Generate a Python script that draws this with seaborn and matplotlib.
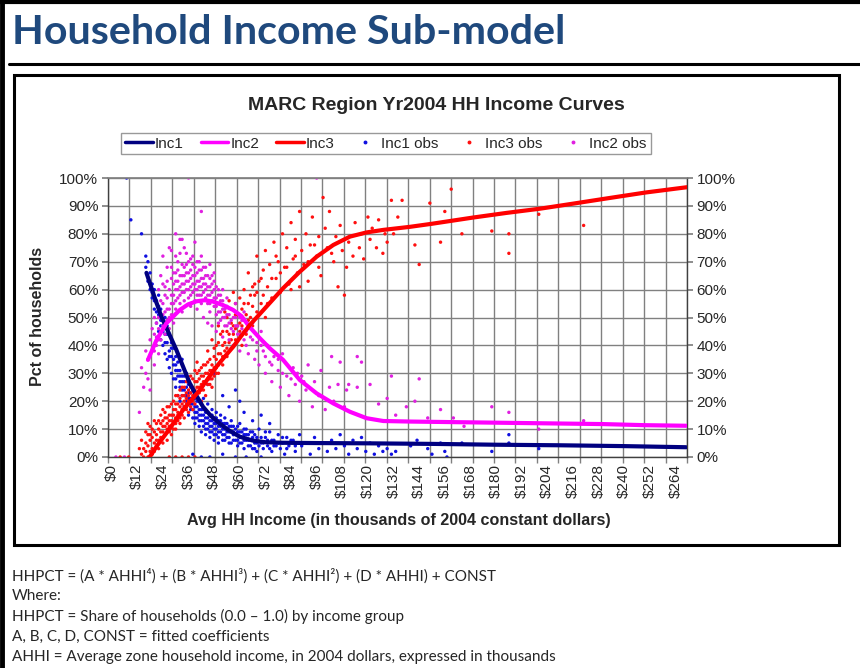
import numpy as np
import pandas as pd
import matplotlib.pyplot as plt
from matplotlib.lines import Line2D
from matplotlib.patches import Rectangle
import seaborn as sns

# ------------------------------------------------------------
# Data (x = $000s, y = percent)
# ------------------------------------------------------------
inc1_curve_x = [16.3, 20, 23.3, 27, 30.3, 33.5, 36.6, 39.7, 42.8, 46.5, 50.6, 55, 60, 66, 72, 80,
                95, 120, 150, 180, 210, 240, 269]
inc1_curve_y = [66, 57.5, 50.3, 44, 38.4, 32.3, 26.4, 22, 18, 14.7, 12, 9.5, 7.3, 5.9, 5.3, 5.1,
                5.0, 4.9, 4.7, 4.4, 4.2, 3.9, 3.5]

inc2_curve_x = [17, 21, 25.6, 31.9, 35.8, 39.7, 43.6, 47.5, 52, 56.9, 60.8, 64.7, 69.5, 74, 80.3,
                88.1, 96, 103.8, 111.6, 119.4, 127.2, 140, 170, 200, 230, 250, 269]
inc2_curve_y = [34.8, 41.9, 47.9, 52.7, 54.7, 55.8, 56.2, 55.7, 54.5, 52.7, 50.5, 46.5, 42.5, 39,
                34.8, 27.6, 22.8, 19.2, 16.2, 13.9, 12.9, 12.7, 12.4, 12.1, 11.8, 11.4, 11.2]

inc3_curve_x = [17.8, 21.5, 25.6, 29.5, 33.4, 37.3, 41.3, 45.2, 49.1, 53, 56.9, 60.8, 64.7, 72.5,
                80.3, 88.1, 96, 103.8, 111.6, 119.4, 127.2, 139.7, 150, 169, 185, 200.6, 216, 232,
                250, 269.4]
inc3_curve_y = [0, 4.3, 8.5, 12.7, 16.8, 20.4, 24, 28.2, 32.4, 36, 39.5, 43.5, 47.3, 53.9, 60.5,
                66.4, 71.8, 76, 79, 80.5, 81.4, 82.5, 83.6, 85.8, 87.5, 89, 90.8, 92.7, 94.8, 96.7]

inc1_obs = [(7,100),(9,85),(14,80),(16,72),(16,68),(17,63),(17,70),(18,60),(18,66),(19,57),(19,62),
    (20,53),(20,60),(21,48),(21,56),(22,51),(22,45),(22,58),(23,47),(23,42),(23,53),(24,49),(24,40),
    (24,45),(25,44),(25,37),(25,50),(26,41),(26,35),(26,47),(27,38),(27,32),(27,44),(28,36),(28,30),
    (28,41),(29,33),(29,28),(29,39),(30,31),(30,25),(30,36),(31,29),(31,34),(31,22),(32,27),(32,31),
    (32,20),(33,24),(33,29),(33,35),(34,22),(34,27),(34,18),(35,20),(35,25),(35,30),(36,19),(36,23),
    (36,15),(37,21),(37,17),(37,26),(38,14),(38,19),(38,24),(39,16),(39,21),(39,12),(40,18),(40,14),
    (40,23),(41,15),(41,11),(41,20),(42,13),(42,17),(42,9),(43,15),(43,11),(43,21),(44,12),(44,16),
    (44,8),(45,14),(45,10),(45,19),(46,11),(46,15),(46,7),(47,13),(47,9),(47,17),(48,10),(48,14),
    (48,6),(49,12),(49,8),(49,16),(50,9),(50,13),(50,5),(51,11),(51,15),(52,8),(52,12),(53,10),
    (53,6),(53,14),(54,9),(54,12),(55,7),(55,11),(56,5),(56,9),(56,13),(57,8),(57,11),(58,6),(58,10),
    (59,4),(59,9),(60,7),(60,12),(61,5),(61,9),(62,8),(62,3),(63,6),(63,10),(64,4),(64,8),(65,6),
    (66,9),(66,3),(67,5),(68,7),(68,2),(69,10),(70,5),(71,3),(72,7),(73,4),(74,9),(75,2),(76,6),
    (77,4),(78,8),(79,3),(80,5),(81,1),(82,7),(83,4),(85,6),(86,2),(88,8),(89,4),(91,5),(93,1),
    (95,7),(97,3),(99,5),(101,2),(103,6),(105,3),(107,8),(109,4),(111,1),(113,6),(115,3),(117,7),
    (119,2),(121,5),(123,1),(125,4),(127,2),(129,3),(131,1),(133,2),(140,4),(143,6),(148,3),(150,1),
    (154,5),(156,2),(157,0),(164,5),(178,2),(186,8),(186,5),(200,3),(38,1),(42,0),(46,0),(52,1),
    (58,0),(63,0),(70,0),(45,26),(48,30),(52,22),(55,18),(58,24),(62,16),(66,13),(70,15),(74,12),
    (60,20)]
inc1_obs_dense = [(18,62),(19,59),(20,56),(21,52),(22,54),(23,49),(24,47),(25,41),(26,44),(27,36),
    (28,39),(29,35),(30,33),(30,28),(31,31),(32,25),(32,29),(33,27),(33,22),(34,24),(34,29),(35,22),
    (35,18),(36,21),(36,26),(37,19),(37,23),(38,17),(38,21),(39,18),(39,14),(40,16),(40,20),(41,17),
    (41,13),(42,15),(42,19),(43,13),(43,17),(44,14),(44,10),(45,12),(45,16),(46,13),(46,9),(47,11),
    (47,15),(48,12),(48,8),(49,10),(49,14),(50,11),(50,7),(51,9),(51,13),(52,10),(52,6),(53,8),
    (53,12),(54,7),(54,10),(55,9),(55,5),(56,11),(57,6),(57,9),(58,8),(59,6),(59,11),(60,5),(60,9),
    (61,7),(62,6),(62,10),(63,8),(64,6),(65,4),(65,9),(66,7),(67,3),(67,8),(68,5),(69,4),(70,7),
    (71,5),(72,9),(73,6),(74,3),(75,6),(76,4),(78,5),(80,7),(82,3),(84,6),(86,4)]

inc2_obs = [(2,0),(6,0),(13,16),(14,32),(15,25),(16,30),(16,38),(17,28),(17,35),(18,42),(18,24),
    (19,38),(19,46),(20,33),(20,44),(20,50),(21,40),(21,48),(21,55),(22,37),(22,46),(22,60),(23,50),
    (23,42),(23,65),(24,47),(24,55),(24,72),(25,52),(25,44),(25,61),(26,49),(26,57),(26,68),(27,53),
    (27,46),(27,75),(28,58),(28,51),(28,64),(29,55),(29,62),(29,48),(30,60),(30,66),(30,53),(31,57),
    (31,70),(31,63),(32,55),(32,61),(32,78),(33,59),(33,65),(33,52),(34,62),(34,68),(34,56),(35,60),
    (35,66),(35,73),(36,57),(36,63),(36,70),(37,61),(37,67),(37,54),(38,59),(38,65),(38,72),(39,62),
    (39,68),(39,56),(40,60),(40,66),(40,53),(41,63),(41,58),(41,70),(42,61),(42,67),(42,55),(43,59),
    (43,64),(43,50),(44,62),(44,57),(44,68),(45,55),(45,61),(45,48),(46,58),(46,64),(46,52),(47,56),
    (47,62),(47,47),(48,54),(48,60),(48,66),(49,51),(49,57),(49,45),(50,55),(50,60),(50,48),(51,52),
    (51,58),(52,50),(52,56),(52,43),(53,53),(53,47),(54,51),(54,57),(55,48),(55,42),(56,53),(56,46),
    (57,50),(57,40),(58,47),(58,55),(59,44),(60,50),(60,38),(61,46),(62,42),(62,52),(63,45),(64,37),
    (65,43),(66,48),(67,35),(68,41),(69,33),(70,45),(71,38),(72,30),(73,40),(74,34),(75,27),(76,36),
    (78,31),(79,25),(80,37),(82,29),(83,22),(85,32),(86,26),(88,20),(89,29),(91,24),(92,33),(94,18),
    (95,27),(97,22),(98,31),(100,17),(102,25),(103,36),(104,20),(106,26),(107,34),(109,18),(110,24),
    (111,26),(115,36),(117,34),(115,25),(121,26),(131,29),(144,28),(178,18),(186,16),(221,13),
    (154,17),(142,20),(129,21),(200,10),(125,19),(133,15),(138,18),(148,14),(160,14),(165,11),
    (36,100),(42,88),(96,100),(30,80),(33,78),(28,74)]
inc2_obs_dense = [(20,38),(21,43),(22,50),(22,42),(23,56),(24,51),(24,62),(25,48),(25,58),(26,53),
    (26,63),(27,50),(27,60),(28,55),(28,68),(29,58),(29,66),(30,56),(30,63),(30,72),(31,60),(31,67),
    (32,58),(32,65),(32,73),(33,62),(33,69),(34,59),(34,65),(34,75),(35,63),(35,69),(36,60),(36,66),
    (37,58),(37,64),(37,71),(38,62),(38,69),(39,60),(39,65),(39,77),(40,58),(40,63),(40,70),(41,61),
    (41,67),(42,58),(42,64),(42,72),(43,62),(43,68),(44,60),(44,65),(45,58),(45,65),(46,55),(46,61),
    (46,69),(47,59),(47,65),(48,57),(48,63),(49,54),(49,61),(50,52),(50,58),(51,49),(51,56),(52,53),
    (52,60),(53,50),(54,47),(54,54),(55,51),(56,49),(57,45),(58,50),(59,47),(60,44),(61,49),(62,45),
    (63,40),(64,46),(66,42),(68,38),(70,40),(72,36),(75,33),(78,35),(80,30),(84,28),(87,30),(90,27)]

inc3_obs = [(14,1),(15,0),(15,3),(16,2),(16,5),(17,0),(17,4),(17,8),(18,2),(18,6),(18,11),(19,3),
    (19,7),(19,1),(20,5),(20,9),(20,2),(21,4),(21,8),(21,12),(22,6),(22,10),(22,3),(23,7),(23,12),
    (23,15),(24,5),(24,9),(24,13),(25,8),(25,11),(25,16),(26,6),(26,10),(26,14),(27,9),(27,13),
    (27,18),(28,11),(28,15),(28,8),(29,12),(29,17),(29,20),(30,10),(30,14),(30,19),(31,13),(31,16),
    (31,22),(32,12),(32,18),(32,21),(33,15),(33,19),(33,25),(34,14),(34,18),(34,22),(35,17),(35,21),
    (35,27),(36,16),(36,20),(36,24),(37,18),(37,23),(37,29),(38,20),(38,25),(38,17),(39,22),(39,27),
    (39,31),(40,21),(40,25),(40,34),(41,23),(41,28),(42,20),(42,26),(42,32),(43,24),(43,29),(44,27),
    (44,33),(44,22),(45,26),(45,30),(45,38),(46,28),(46,35),(47,25),(47,31),(47,42),(48,29),(48,36),
    (49,32),(49,40),(50,30),(50,37),(50,47),(51,34),(51,44),(52,33),(52,40),(53,38),(53,52),(54,36),
    (54,45),(55,41),(55,56),(56,39),(56,48),(57,44),(57,59),(58,42),(58,51),(59,47),(60,45),(60,57),
    (61,40),(61,53),(62,49),(62,60),(63,44),(64,55),(64,66),(65,50),(66,47),(66,61),(67,58),(68,52),
    (68,72),(69,63),(70,55),(71,67),(72,50),(72,74),(73,61),(74,69),(75,57),(76,77),(77,64),(78,70),
    (79,59),(80,80),(81,68),(82,75),(83,62),(84,84),(85,71),(86,78),(87,66),(88,88),(89,74),(90,69),
    (91,80),(92,63),(93,76),(94,86),(96,72),(97,79),(98,65),(99,93),(100,82),(101,75),(102,88),
    (104,70),(105,79),(106,61),(107,83),(108,74),(109,58),(110,68),(111,77),(113,72),(114,84),
    (116,75),(117,80),(118,71),(120,86),(121,78),(122,82),(124,75),(125,85),(127,73),(128,80),
    (129,77),(131,92),(132,80),(134,86),(136,92),(142,76),(144,69),(149,91),(154,77),(156,88),
    (159,96),(164,80),(178,81),(186,80),(186,73),(200,87),(221,83),(4,0),(8,0),(27,0),(30,0),
    (33,0),(36,0),(39,0)]
inc3_obs_dense = [(13,3),(14,6),(16,9),(17,12),(18,8),(19,10),(20,13),(21,6),(22,13),(23,9),(24,11),
    (24,17),(25,14),(26,12),(26,18),(27,11),(27,15),(28,13),(28,19),(29,10),(29,15),(30,12),(30,17),
    (30,22),(31,15),(31,19),(32,14),(32,24),(33,17),(33,22),(34,20),(34,25),(35,19),(35,23),(36,22),
    (36,27),(37,20),(37,25),(38,22),(38,28),(39,24),(39,19),(40,27),(40,30),(41,25),(41,31),(42,24),
    (42,29),(43,27),(43,33),(44,30),(45,28),(45,34),(46,31),(46,26),(47,33),(47,28),(48,32),(48,39),
    (49,35),(49,30),(50,33),(50,41),(51,37),(52,36),(52,45),(53,41),(54,39),(54,50),(55,44),(56,42),
    (57,47),(58,46),(58,55),(59,51),(60,48),(61,47),(62,55),(63,51),(64,49),(65,58),(66,54),(67,62),
    (68,59),(70,64),(71,58),(73,55),(75,64),(77,72),(79,66),(82,68),(84,60),(86,72),(88,61),(92,70),
    (95,76),(97,68),(103,73)]

x_tick_values = list(range(0, 265, 12))
x_tick_labels = [f"${v}" for v in x_tick_values]
y_tick_values = list(range(0, 101, 10))
y_tick_labels = [f"{v}%" for v in y_tick_values]

# ------------------------------------------------------------
# Build tidy frames
# ------------------------------------------------------------
curves = pd.concat([
    pd.DataFrame({"x": inc1_curve_x, "y": inc1_curve_y, "series": "Inc1"}),
    pd.DataFrame({"x": inc2_curve_x, "y": inc2_curve_y, "series": "Inc2"}),
    pd.DataFrame({"x": inc3_curve_x, "y": inc3_curve_y, "series": "Inc3"}),
])
obs = pd.concat([
    pd.DataFrame(inc1_obs + inc1_obs_dense, columns=["x", "y"]).assign(series="Inc1 obs"),
    pd.DataFrame(inc3_obs + inc3_obs_dense, columns=["x", "y"]).assign(series="Inc3 obs"),
    pd.DataFrame(inc2_obs + inc2_obs_dense, columns=["x", "y"]).assign(series="Inc2 obs"),
])

curve_colors = {"Inc1": "#000080", "Inc2": "#FF00FF", "Inc3": "#FF0000"}
obs_colors = {"Inc1 obs": "#1010E0", "Inc2 obs": "#E020E0", "Inc3 obs": "#FF1010"}

sns.set_theme(style="white")
plt.rcParams['font.family'] = ['Liberation Sans', 'DejaVu Sans']

W, H = 860, 668
fig = plt.figure(figsize=(W / 100, H / 100), dpi=100)

# axes placed in pixel terms
ax_l, ax_r, ax_t, ax_b = 108, 687, 178, 457
ax = fig.add_axes([ax_l / W, 1 - ax_b / H, (ax_r - ax_l) / W, (ax_b - ax_t) / H])
xlim = (-1.7, 269.4)
grid_x = np.linspace(xlim[0], xlim[1], 28)   # Excel category gridlines, 27 bands

ax.grid(False)
for gx in grid_x:
    ax.axvline(gx, color="#808080", lw=1, zorder=0.5)
for gy in y_tick_values:
    ax.axhline(gy, color="#808080", lw=1, zorder=0.5)

sns.scatterplot(data=obs, x="x", y="y", hue="series", palette=obs_colors, s=6,
                linewidth=0, legend=False, ax=ax, zorder=2)
sns.lineplot(data=curves, x="x", y="y", hue="series", palette=curve_colors, lw=3,
             sort=False, legend=False, ax=ax, zorder=3)

ax.set_xlim(*xlim)
ax.set_ylim(0, 100)

ax.set_xticks(grid_x, minor=True)
ax.set_xticks(x_tick_values)
ax.set_xticklabels(x_tick_labels, rotation=90, fontsize=11)
ax.set_yticks(y_tick_values)
ax.set_yticklabels(y_tick_labels, fontsize=11)
ax.tick_params(axis="x", which="major", length=0, pad=5)
ax.tick_params(axis="x", which="minor", length=4, color="#808080", bottom=True)
ax.tick_params(axis="y", length=4, color="#808080", left=True, right=True,
               labelleft=True, labelright=True, pad=3)
for side in ["left", "bottom", "right"]:
    ax.spines[side].set_color("#404040")
    ax.spines[side].set_linewidth(1)
ax.spines["top"].set_color("#808080")
ax.set_xlabel("")
ax.set_ylabel("")

fig.text(399 / W, 1 - 521 / H,
         "Avg HH Income (in thousands of 2004 constant dollars)",
         ha="center", va="center", fontsize=11.6, fontweight="bold")
fig.text(38 / W, 1 - 316 / H, "Pct of households", rotation=90,
         ha="center", va="center", fontsize=11.5, fontweight="bold")
fig.text(436 / W, 1 - 105 / H, "MARC Region Yr2004 HH Income Curves",
         ha="center", va="center", fontsize=14, fontweight="bold")

# legend
handles = [
    Line2D([], [], color=curve_colors["Inc1"], lw=2.5),
    Line2D([], [], color=curve_colors["Inc2"], lw=2.5),
    Line2D([], [], color=curve_colors["Inc3"], lw=2.5),
    Line2D([], [], color=obs_colors["Inc1 obs"], lw=0, marker="o", markersize=1.8),
    Line2D([], [], color=obs_colors["Inc3 obs"], lw=0, marker="o", markersize=1.8),
    Line2D([], [], color=obs_colors["Inc2 obs"], lw=0, marker="o", markersize=1.8),
]
labels = ["Inc1", "Inc2", "Inc3", "Inc1 obs", "Inc3 obs", "Inc2 obs"]
leg = fig.legend(handles, labels, loc="center", bbox_to_anchor=(386 / W, 1 - 143.5 / H),
                 ncol=6, fontsize=11, frameon=True, fancybox=False, handlelength=1.8,
                 handletextpad=0.15, columnspacing=1.1, borderpad=0.25)
leg.get_frame().set_edgecolor("#808080")
leg.get_frame().set_linewidth(1)

# slide decorations
fig.text(12 / W, 1 - 32 / H, "Household Income Sub-model", ha="left", va="center",
         fontsize=29.7, fontweight="bold", color="#1F497D", family=["Lato", "DejaVu Sans"])
fig.add_artist(Line2D([9 / W, 1], [1 - 64 / H] * 2, color="black", lw=2.2))
fig.add_artist(Line2D([2 / W, 2 / W], [0, 1], color="black", lw=3.5))
fig.add_artist(Line2D([0, 1], [1 - 1.5 / H] * 2, color="black", lw=3))
fig.add_artist(Rectangle((14 / W, 1 - 545 / H), (839 - 14) / W, (545 - 75) / H,
                         transform=fig.transFigure, fill=False, ec="black", lw=2.2))

notes = [
    "HHPCT = (A * AHHI\u2074) + (B * AHHI\u00b3) + (C * AHHI\u00b2) + (D * AHHI) + CONST",
    "Where:",
    "HHPCT = Share of households (0.0 \u2013 1.0) by income group",
    "A, B, C, D, CONST = fitted coefficients",
    "AHHI = Average zone household income, in 2004 dollars, expressed in thousands",
]
for i, line in enumerate(notes):
    fig.text(12 / W, 1 - (576 + 20.3 * i) / H, line, ha="left", va="center",
             fontsize=11, family=["Lato", "DejaVu Sans"])

fig.savefig("out.png", dpi=100)
